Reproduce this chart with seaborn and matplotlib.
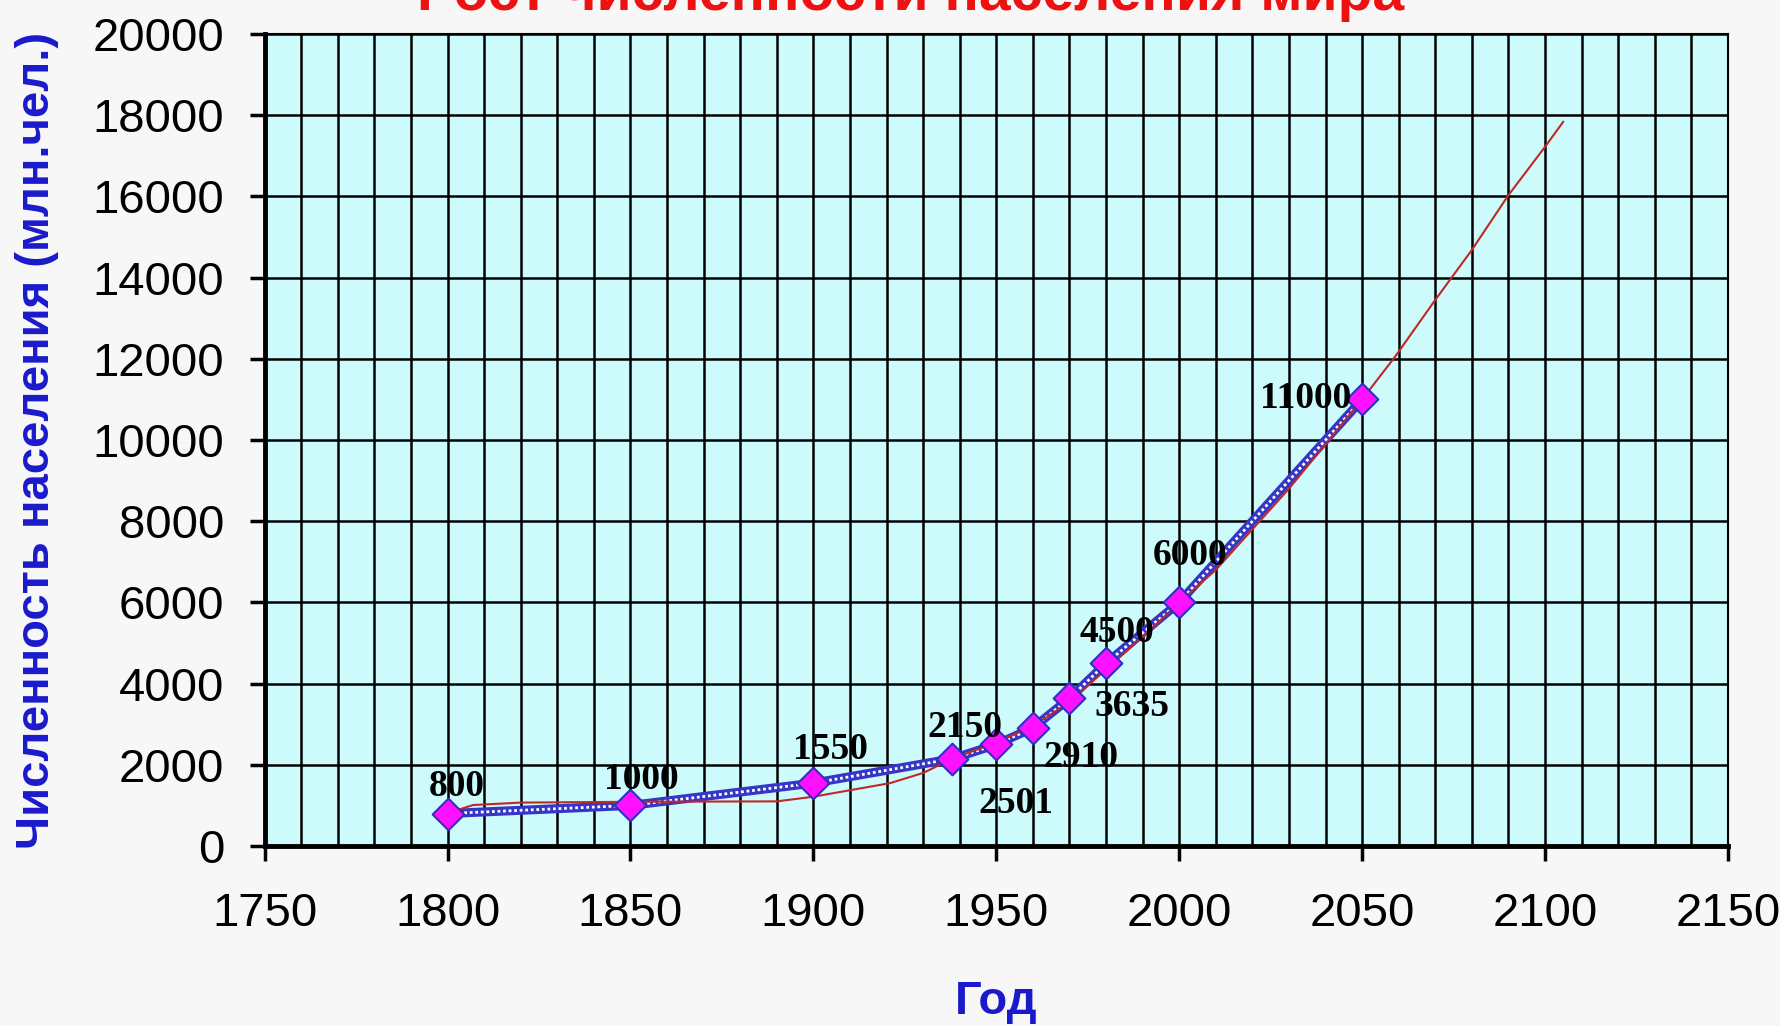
import numpy as np
import pandas as pd
import seaborn as sns
import matplotlib.pyplot as plt
import matplotlib.ticker as plticker

# measured points
years = [1800, 1850, 1900, 1938, 1950, 1960, 1970, 1980, 2000, 2050]
population = [800, 1000, 1550, 2150, 2501, 2910, 3635, 4500, 6000, 11000]
point_labels = ["800", "1000", "1550", "2150", "2501", "2910", "3635", "4500", "6000", "11000"]

# red trend line
trend_years = [1800, 1807, 1820, 1850, 1890, 1900, 1921, 1930, 1938, 1950, 1960, 1970,
               1980, 1990, 2000, 2010, 2020, 2030, 2040, 2050, 2059, 2070, 2080, 2090,
               2100, 2105]
trend_values = [810, 1010, 1070, 1090, 1100, 1215, 1550, 1800, 2150, 2550, 2950, 3550,
                4350, 5150, 6000, 6800, 7800, 8800, 9900, 11000, 12050, 13450, 14680,
                16030, 17220, 17840]

# label offsets in pixels (dx, dy)
label_offsets = [(9, 27), (11, 26), (17, 34), (12, 31), (20, -59), (48, -30),
                 (62, -8), (11, 31), (11, 47), (-56, 1)]


def plot_data(filename):
    sns.set_style("ticks")
    plt.rcParams["font.family"] = ["Liberation Sans", "DejaVu Sans"]

    fig = plt.figure(figsize=(17.81, 10.26), dpi=100, facecolor="#f7f7f7")
    ax = fig.add_axes([0.1486, 0.1754, 0.8216, 0.7915])
    ax.set_facecolor("#cdfafa")

    data = pd.DataFrame({"year": years, "pop": population})
    trend = pd.DataFrame({"year": trend_years, "pop": trend_values})

    sns.lineplot(data=data, x="year", y="pop", ax=ax, color="#3535c8", linewidth=6.5, zorder=3)
    sns.lineplot(data=data, x="year", y="pop", ax=ax, color="white", linewidth=2.0,
                 linestyle=(0, (1, 1)), zorder=4)
    sns.lineplot(data=trend, x="year", y="pop", ax=ax, color="#c02828", linewidth=1.5, zorder=5)
    sns.scatterplot(data=data, x="year", y="pop", ax=ax, marker="D", s=260,
                    color="#ff10ff", edgecolor="#3030c0", linewidth=1.5, zorder=6)

    for x, y, lab, (dx, dy) in zip(years, population, point_labels, label_offsets):
        ax.annotate(lab, (x, y), xytext=(dx, dy), textcoords="offset pixels",
                    ha="center", va="center", fontsize=27, fontweight="bold",
                    family="Liberation Serif", color="black", zorder=7)

    ax.set_xlim(1750, 2150)
    ax.set_ylim(0, 20000)
    ax.xaxis.set_major_locator(plticker.MultipleLocator(50))
    ax.xaxis.set_minor_locator(plticker.MultipleLocator(10))
    ax.yaxis.set_major_locator(plticker.MultipleLocator(2000))
    ax.grid(which="major", color="black", linewidth=1.8)
    ax.grid(which="minor", axis="x", color="black", linewidth=1.8)
    ax.set_axisbelow(True)

    for side in ["top", "right"]:
        ax.spines[side].set_linewidth(1.5)
        ax.spines[side].set_color("black")
    for side in ["left", "bottom"]:
        ax.spines[side].set_linewidth(3.5)
        ax.spines[side].set_color("black")

    ax.tick_params(axis="both", which="major", length=11, width=2.5, labelsize=34,
                   colors="black", direction="out")
    ax.tick_params(axis="x", which="major", pad=22)
    ax.tick_params(axis="y", which="major", pad=18)
    ax.tick_params(axis="x", which="minor", length=0)

    ax.set_xlabel("Год", fontsize=34, fontweight="bold", color="#1a1acc")
    ax.xaxis.set_label_coords(0.5, -0.165)
    ax.set_ylabel("Численность населения (млн.чел.)", fontsize=34, fontweight="bold",
                  color="#1a1acc")
    ax.yaxis.set_label_coords(-0.1405, 0.5)

    fig.text(0.511, 1 - 10 / 1026, "Рост численности населения мира", ha="center",
             va="baseline", fontsize=41, fontweight="bold", color="#ee1111")

    plt.savefig(filename, dpi=100, facecolor=fig.get_facecolor())


plot_data("out.png")
